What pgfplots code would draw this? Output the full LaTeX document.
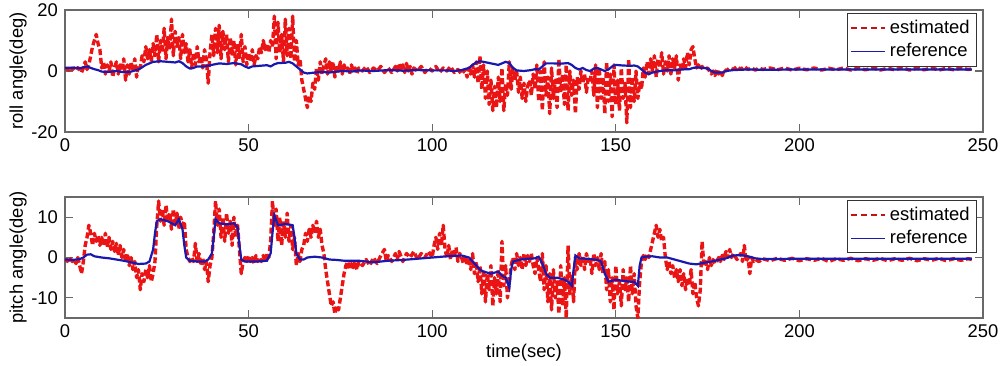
\documentclass[border=0pt]{standalone}
\usepackage{pgfplots}
\pgfplotsset{compat=1.18}
\usepackage{fontspec}
\setmainfont{Liberation Sans}
\definecolor{est}{RGB}{235,20,20}
\definecolor{ref}{RGB}{25,25,175}
\definecolor{frame}{RGB}{105,105,105}
\pgfplotsset{
  mystyle/.style={
    scale only axis, width=459pt,
    xmin=0, xmax=250, xtick={0,50,100,150,200,250},
    tick pos=both, tick align=inside,
    major tick length=4pt,
    axis line style={frame, line width=0.6pt},
    every tick/.style={frame, line width=0.6pt},
    /pgf/number format/assume math mode=true,
    tick label style={font=\fontsize{9.2}{10}\selectfont, black},
    label style={font=\fontsize{9.2}{10}\selectfont},
    ylabel style={at={(axis description cs:-0.0512,0.5)}, anchor=center},
    legend style={at={(0.993,0.975)}, anchor=north east, draw=black!80, line width=0.5pt,
      font=\fontsize{9.2}{10.5}\selectfont, inner sep=1.2pt, row sep=-0.5pt, cells={anchor=west}},
    legend image code/.code={\draw[#1] (0pt,0pt) -- (17pt,0pt);},
    clip=true,
  },
  estst/.style={est, line width=1.7pt, dash pattern=on 3pt off 1.4pt, line join=round},
  refst/.style={ref, line width=1.1pt},
  estleg/.style={est!85!black, line width=0.9pt, dash pattern=on 3.2pt off 1.8pt},
  refleg/.style={ref, line width=0.9pt},
}
\begin{document}
\begin{tikzpicture}
\path[use as bounding box] (0,0) rectangle (500pt,182.5pt);
\begin{axis}[mystyle, at={(32.5pt,116.5pt)}, anchor=south west, height=61pt,
  ymin=-20, ymax=20, ytick={-20,0,20}, ylabel={roll angle(deg)}]
\addlegendimage{estleg}
\addlegendentry{estimated}
\addlegendimage{refleg}
\addlegendentry{reference}
\addplot[estst, forget plot] coordinates {
(0,0.5) (0.5,1) (1,0.3) (1.5,1.2) (2,0.5) (2.5,1) (3,0.2) (3.5,1.1) (4,0.4) (4.5,-0.5) (5,1) (5.5,3) (6,0.5) (6.5,2) (7,5) (7.5,8) (8,10) (8.5,12) (9,9) (9.5,7)
(10,1) (10.5,3) (11,-1) (11.5,2) (12,0) (12.5,3) (13,-2) (13.5,1) (14,3) (14.5,-1) (15,2) (15.5,0) (16,4) (16.5,-3) (17,2) (17.5,-1) (18,3) (18.5,0) (19,4) (19.5,-2)
(20,2) (20.5,1) (21,5) (21.5,3) (22,8) (22.5,4) (23,7) (23.5,3) (24,9) (24.5,5) (25,12) (25.5,3) (26,10) (26.5,6) (27,14) (27.5,4) (28,11) (28.5,7) (29,17) (29.5,5)
(30,13) (30.5,8) (31,11) (31.5,4) (32,12) (32.5,6) (33,9) (33.5,3) (34,7) (34.5,1) (35,6) (35.5,2) (36,8) (36.5,3) (37,5) (37.5,1) (38,7) (38.5,4) (39,-4) (39.5,6)
(40,12) (40.5,5) (41,14) (41.5,6) (42,15) (42.5,4) (43,13) (43.5,7) (44,12) (44.5,3) (45,11) (45.5,5) (46,10) (46.5,2) (47,9) (47.5,4) (48,12) (48.5,3) (49,8) (49.5,2)
(50,6) (50.5,3) (51,7) (51.5,2) (52,5) (52.5,4) (53,8) (53.5,6) (54,10) (54.5,7) (55,9) (55.5,6) (56,10) (56.5,8) (57,18) (57.5,4) (58,16) (58.5,6) (59,12) (59.5,3)
(60,17) (60.5,5) (61,14) (61.5,4) (62,18) (62.5,3) (63,10) (63.5,2) (64,4) (64.5,-3) (65,-6) (65.5,-9) (66,-12) (66.5,-8) (67,-10) (67.5,-4) (68,-6) (68.5,1) (69,-3) (69.5,3)
(70,-1) (70.5,2) (71,4) (71.5,-1) (72,3) (72.5,0) (73,3) (73.5,-2) (74,2) (74.5,0) (75,3) (75.5,-1) (76,2) (76.5,0) (77,1) (77.5,-1) (78,2) (78.5,0) (79,1) (79.5,-1)
(80,1) (81,0) (82,1.5) (83,-0.5) (84,1) (85,0) (86,1.5) (87,-0.5) (88,1) (89,-0.5) (90,1.5) (90.5,0) (91,2.5) (91.5,0.5) (92,2) (92.5,-0.5) (93,2.5) (93.5,0) (94,1.5) (94.5,-1)
(95,1) (96,0) (97,1.5) (98,-0.5) (99,1) (100,0) (101,1.5) (102,-0.5) (103,1) (104,0) (105,1.5) (106,-0.5) (107,0.5) (108,-1) (109,0.5) (109.5,-2)
(110,1) (110.5,-1) (111,2) (111.5,-2) (112,3) (112.5,-4) (113,5) (113.5,-6) (114,2) (114.5,-9) (115,0) (115.5,-11) (116,-3) (116.5,-13) (117,-5) (117.5,-12) (118,-2) (118.5,-10) (119,1) (119.5,-13)
(120,-4) (120.5,-8) (121,3) (121.5,-6) (122,1) (122.5,-3) (123,0) (123.5,-7) (124,-2) (124.5,-9) (125,-4) (125.5,-10) (126,-5) (126.5,-3) (127,-8) (127.5,-1) (128,-6) (128.5,2) (129,-10) (129.5,0)
(130,-13) (130.5,3) (131,-8) (131.5,-2) (132,-14) (132.5,1) (133,-9) (133.5,-3) (134,-12) (134.5,4) (135,-7) (135.5,-1) (136,-11) (136.5,2) (137,-13) (137.5,0) (138,-8) (138.5,-3) (139,-14) (139.5,-2)
(140,-6) (140.5,0) (141,-4) (141.5,-1) (142,-7) (142.5,-2) (143,-3) (143.5,0) (144,-8) (144.5,2) (145,-12) (145.5,1) (146,-9) (146.5,-2) (147,-14) (147.5,3) (148,-10) (148.5,-1) (149,-15) (149.5,2)
(150,-11) (150.5,-3) (151,-13) (151.5,1) (152,-9) (152.5,-4) (153,-17) (153.5,4) (154,-12) (154.5,-2) (155,-10) (155.5,0) (156,-9) (156.5,-4) (157,-6) (157.5,1) (158,-2) (158.5,3) (159,-1) (159.5,4)
(160,0) (160.5,5) (161,-2) (161.5,4) (162,1) (162.5,6) (163,-1) (163.5,3) (164,0) (164.5,5) (165,-1) (165.5,4) (166,1) (166.5,5) (167,-3) (167.5,2) (168,0) (168.5,4) (169,1) (169.5,6)
(170,2) (170.5,7) (171,8) (171.5,4) (172,1) (172.5,2) (173,0.5) (173.5,1.5) (174,0.5) (175,1) (176,-1) (176.5,0) (177,-1.5) (177.5,0.5) (178,-1) (178.5,0) (179,-1.5) (179.5,0.5)
(180,0) (181,1) (182,0.5) (183,1.5) (184,0.5) (185,1.5) (186,0.5) (187,1) (188,0.3) (189,1) (190,0.5) (192,1) (194,0.4) (196,1) (198,0.3)
(200,0.9) (202,0.4) (204,1) (206,0.3) (208,0.9) (210,0.4) (212,1) (214,0.3) (216,0.9) (218,0.4) (220,1) (222,0.3) (224,0.9) (226,0.4) (228,1.1)
(230,0.3) (232,0.9) (234,0.4) (236,1) (238,0.3) (240,0.9) (242,0.4) (244,1) (246,0.5) (247,0.7)
};
\addplot[refst, forget plot] coordinates {
(0,1) (2,1.1) (4,0.9) (5,1.2) (6,1.5) (7,1) (8,0.6) (9,0.3) (10,-0.2) (12,-0.3) (14,0) (16,-0.4) (18,-0.2) (20,0.5) (21,1.2) (22,2) (23,2.5) (24,3) (26,3.2) (28,3)
(30,2.8) (31,3.2) (32,2.6) (33,1.5) (34,0.8) (35,1) (36,1.5) (38,1.5) (40,2) (42,2.5) (44,2.3) (46,2.6) (48,2.2) (49,1.5) (50,1) (51,1.5) (53,1.7) (55,1.9) (56,1.5) (57,2.2)
(58,2.6) (60,2.7) (61,3) (62,2.5) (63,1.5) (64,0.5) (65,-0.5) (66,-0.8) (68,-0.5) (70,-0.3) (72,-0.5) (74,-0.2) (76,0) (78,-0.2) (80,0.2) (84,0) (88,0.3) (92,0.1) (96,0.3) (100,0.2)
(104,0.2) (106,0) (108,0.3) (110,1) (111,2) (112,2.8) (113,3.2) (114,3) (116,2.5) (118,2) (119,2.5) (120,3) (121,2.6) (122,1) (123,0.2) (125,0) (127,0.3) (128,0.6) (129,0.5) (130,1.5)
(131,2.5) (133,2.5) (135,2.4) (137,2.6) (138,2) (139,1) (140,0.5) (141,1) (142,0.3) (143,0) (144,0.8) (145,1) (146,0.5) (147,0) (148,0.5) (149,1.5) (150,2) (152,1.8) (154,1.7) (155,1.8)
(156,1.5) (157,0.5) (158,-0.5) (159,-1) (160,-0.5) (162,0) (164,0.3) (166,0.2) (168,0.5) (170,0.6) (171,1) (172,1.2) (174,1) (175,0.8) (176,0) (177,-0.5) (179,-0.5) (180,0) (182,0.3) (184,0.4)
(186,0.5) (190,0.4) (200,0.5) (210,0.5) (220,0.5) (230,0.5) (240,0.5) (247,0.5)
};
\end{axis}
\begin{axis}[mystyle, at={(32.5pt,23.5pt)}, anchor=south west, height=60.5pt,
  ymin=-15, ymax=15, ytick={-10,0,10}, ylabel={pitch angle(deg)}, xlabel={time(sec)},
  xlabel style={at={(axis description cs:0.5,-0.289)}, anchor=center}]
\addlegendimage{estleg}
\addlegendentry{estimated}
\addlegendimage{refleg}
\addlegendentry{reference}
\addplot[estst, forget plot] coordinates {
(0,-1) (0.5,-0.5) (1,-1.2) (1.5,-0.3) (2,-1) (2.5,-0.5) (3,-1.5) (3.5,0) (4,-2) (4.5,-4) (5,-1) (5.5,3) (6,5) (6.5,8) (7,6) (7.5,3) (8,6) (8.5,4) (9,5.5) (9.5,3)
(10,5) (10.5,3) (11,6) (11.5,2.5) (12,5) (12.5,2) (13,4) (13.5,1.5) (14,3.5) (14.5,0.5) (15,3) (15.5,0) (16,2) (16.5,-1) (17,1) (17.5,-2) (18,0) (18.5,-3) (19,-1) (19.5,-5)
(20,-3) (20.5,-8) (21,-4) (21.5,-6) (22,-3) (22.5,-5) (23,-2) (23.5,-6) (24,-4) (24.5,-1) (25,8) (25.5,14) (26,9) (26.5,12) (27,8) (27.5,13) (28,9) (28.5,11) (29,7) (29.5,12)
(30,8) (30.5,11) (31,7) (31.5,10) (32,8) (32.5,9) (33,2) (33.5,0) (34,-1) (34.5,0) (35,-1) (35.5,3.5) (36,-1) (36.5,1) (37,-2) (37.5,0) (38,-3) (38.5,-1) (39,-6) (39.5,-2)
(40,0) (40.5,6) (41,14) (41.5,8) (42,12) (42.5,5) (43,10) (43.5,4) (44,11) (44.5,6) (45,9) (45.5,3) (46,10) (46.5,5) (47,8) (47.5,2) (48,-4) (48.5,-1) (49,0) (49.5,-1)
(50,0.5) (50.5,-1) (51,0) (51.5,-1.5) (52,0.5) (52.5,-1) (53,0) (53.5,-1) (54,0.5) (54.5,-1) (55,1) (55.5,0) (56,4) (56.5,14) (57,8) (57.5,12) (58,4) (58.5,10) (59,3) (59.5,9)
(60,5) (60.5,11) (61,4) (61.5,8) (62,2) (62.5,5) (63,-2) (63.5,1) (64,-1) (64.5,2) (65,3) (65.5,6) (66,4) (66.5,7) (67,5) (67.5,8) (68,6) (68.5,9) (69,5) (69.5,7)
(70,3) (70.5,1) (71,-3) (71.5,-6) (72,-9) (72.5,-12) (73,-11) (73.5,-14) (74,-12) (74.5,-13) (75,-10) (75.5,-7) (76,-4) (76.5,-2) (77,-1) (77.5,-3) (78,-1.5) (78.5,-2.5) (79,-1) (79.5,-3)
(80,-1) (81,-2) (82,-0.5) (83,-2) (84,0) (85,-1.5) (86,0.5) (87,2) (87.5,-1) (88,0.5) (89,-1) (90,1) (90.5,-0.5) (91,1.5) (92,-1) (93,1) (94,0) (95,1.5) (96,-0.5) (97,1) (98,0) (99,1.5)
(100,0) (100.5,3) (101,5) (101.5,2) (102,6) (102.5,3) (103,8) (103.5,2) (104,0) (104.5,3) (105,-0.5) (105.5,2) (106,0) (106.5,2.5) (107,-1) (107.5,1) (108,0) (108.5,-1.5) (109,0.5) (109.5,-2)
(110,0) (110.5,-3) (111,1) (111.5,-4) (112,-1) (112.5,-6) (113,-2) (113.5,-9) (114,-3) (114.5,-11) (115,-4) (115.5,-8) (116,-2) (116.5,-12) (117,-5) (117.5,-9) (118,-3) (118.5,-11) (119,4) (119.5,-7)
(120,-2) (120.5,-10) (121,-6) (121.5,-2) (122,0) (122.5,-3) (123,1) (123.5,-2) (124,0) (124.5,-3) (125,1) (125.5,-2) (126,0.5) (126.5,-1) (127,1) (127.5,-2) (128,-4) (128.5,0) (129,-3) (129.5,-6)
(130,1) (130.5,-8) (131,-2) (131.5,-11) (132,-4) (132.5,-13) (133,-3) (133.5,-10) (134,-6) (134.5,-14) (135,-2) (135.5,-12) (136,-5) (136.5,-15) (137,3) (137.5,-9) (138,-4) (138.5,-11) (139,0) (139.5,-3)
(140,1) (140.5,-2) (141,0.5) (141.5,-3) (142,1) (142.5,-1) (143,0) (143.5,-4) (144,1) (144.5,-2) (145,0) (145.5,-3) (146,1) (146.5,-4) (147,-1) (147.5,-8) (148,-3) (148.5,-11) (149,-5) (149.5,-13)
(150,-2) (150.5,-9) (151,-6) (151.5,-12) (152,-3) (152.5,-8) (153,-5) (153.5,-11) (154,-2) (154.5,-9) (155,-4) (155.5,-12) (156,-15) (156.5,-6) (157,-1) (157.5,0.5) (158,-0.5) (158.5,1) (159,0) (159.5,2)
(160,4) (160.5,6) (161,8) (161.5,5) (162,7) (162.5,4) (163,5) (163.5,0) (164,-3) (164.5,-1) (165,-4) (165.5,-2) (166,-5) (166.5,-3) (167,-6) (167.5,-3) (168,-7) (168.5,-4) (169,-8) (169.5,-5)
(170,-7) (170.5,-3) (171,-9) (171.5,-6) (172,-10) (172.5,-12) (173,-8) (173.5,4) (174,-2) (174.5,-1) (175,-3) (175.5,0) (176,-2) (176.5,-0.5) (177,-1.5) (177.5,-1) (178,0) (178.5,-1) (179,1) (179.5,-0.5)
(180,1.5) (180.5,0) (181,2) (181.5,0) (182,1) (183,-0.5) (184,1) (184.5,-1) (185,3) (185.5,-1) (186,0) (186.5,-4) (187,0) (187.5,-1) (188,-0.5) (189,-1) (190,-0.3) (192,-0.8) (194,-0.2) (196,-0.7) (198,-0.2)
(200,-0.8) (202,-0.3) (204,-0.7) (206,-0.2) (208,-1) (210,-0.3) (212,-0.7) (214,-0.2) (216,-0.8) (218,-0.3) (220,-0.7) (222,-0.2) (224,-0.8) (226,-0.3) (228,-0.7)
(230,-0.2) (232,-0.8) (234,-0.3) (236,-0.7) (238,-0.2) (240,-0.8) (242,-0.3) (244,-0.7) (246,-0.3) (247,-0.5)
};
\addplot[refst, forget plot] coordinates {
(0,-0.5) (2,-0.6) (4,-0.4) (5,0) (6,0.7) (7,0.8) (8,0.3) (10,0) (12,-0.2) (14,-0.5) (16,-0.8) (18,-1.2) (20,-1.6) (22,-1.5) (23,-1) (24,2) (24.5,6) (25,9) (26,9.5) (28,9)
(29,8.5) (30,8) (31,9.5) (32,7) (32.5,3) (33,0) (34,-0.8) (36,-1) (38,-1) (39,-0.5) (40,1) (40.5,5) (41,9.5) (42,8.5) (44,8.2) (46,8.5) (47,7.5) (47.5,3) (48,-0.5) (49,-1)
(52,-1) (55,-0.8) (56,1) (56.5,6) (57,10.5) (58,8) (60,8.3) (62,8) (62.5,5) (63,1) (64,-0.5) (65,-0.5) (66,0) (68,0.2) (70,0) (72,-0.5) (74,-0.6) (76,-0.8) (80,-0.8) (84,-1.2)
(88,-0.8) (92,-0.6) (96,-0.3) (100,0) (104,0.3) (108,0.5) (110,0) (111,-1) (112,-2) (113,-3) (114,-3.5) (116,-4) (118,-3.5) (119,-4.5) (120,-5) (121,-7.5) (121.5,-3) (122,-1) (124,-0.5) (126,-0.3)
(128,-0.2) (129,0.2) (130,-1.5) (131,-4) (132,-5) (134,-5) (136,-5.5) (137,-6) (138,-7) (138.5,-3) (139,0.5) (140,-0.2) (142,-0.3) (144,-0.5) (145,-0.6) (146,-1) (147,-4) (148,-6) (150,-5.5) (152,-5.8)
(154,-6) (155,-6) (156,-7) (156.5,-2) (157,0) (158,0.2) (160,0.3) (162,0) (164,0) (166,-0.5) (168,-1) (170,-1.5) (172,-1.7) (174,-1.3) (176,-1) (178,-0.6) (180,-0.2) (182,0.5) (184,0.6) (186,0.3)
(188,-0.2) (190,-0.4) (200,-0.3) (210,-0.3) (220,-0.3) (230,-0.3) (240,-0.3) (247,-0.3)
};
\end{axis}
\end{tikzpicture}
\end{document}
